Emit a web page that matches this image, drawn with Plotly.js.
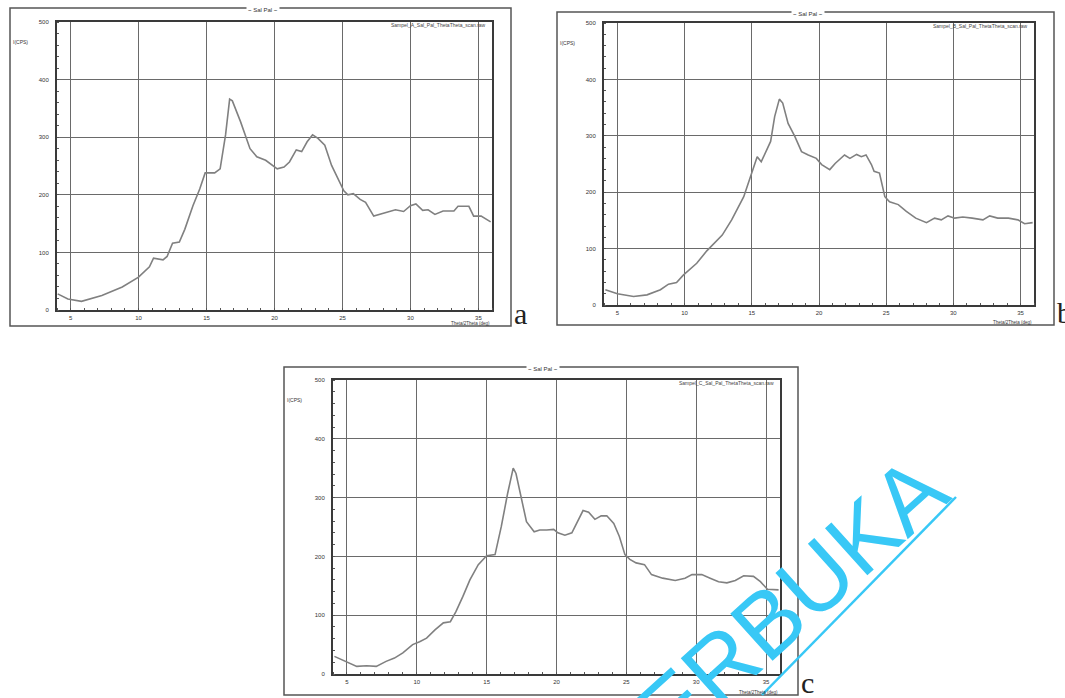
<!DOCTYPE html>
<html>
<head>
<meta charset="utf-8">
<script src="https://cdn.plot.ly/plotly-3.0.1.min.js"></script>
<style>html,body{margin:0;padding:0;background:#fff;}#chart{width:1065px;height:698px;}</style>
</head>
<body>
<div id="chart"></div>
<script>
// ---- data (2Theta in deg, intensity in CPS) ----
const thetaA = [4.05,4.8,5.8,7.3,8.8,10.0,10.8,11.1,11.8,12.1,12.5,13.0,13.4,14.0,14.5,14.9,15.6,16.0,16.4,16.7,16.9,17.5,18.2,18.7,19.35,19.7,20.2,20.7,21.1,21.6,22.0,22.4,22.8,23.2,23.7,24.2,24.7,25.1,25.4,25.8,26.3,26.7,27.3,28.2,28.9,29.5,30.0,30.4,30.9,31.3,31.8,32.4,33.2,33.5,34.3,34.65,35.2,35.9];
const cpsA   = [28,19,15,25,40,57,75,90,87,93,116,118,140,181,210,238,238,245,304,366,363,327,280,266,260,254,245,248,257,278,275,292,304,298,286,251,228,207,200,202,192,187,163,169,174,171,181,184,173,174,166,172,172,180,180,163,163,153];

const thetaB = [4.1,5.0,6.2,7.2,8.2,8.8,9.4,9.9,10.9,11.65,12.8,13.5,14.4,15.1,15.4,15.7,16.4,16.7,17.05,17.3,17.7,18.2,18.7,19.2,19.8,20.2,20.8,21.2,21.9,22.3,22.8,23.15,23.5,23.9,24.1,24.5,24.9,25.25,25.9,26.5,27.2,28.0,28.6,29.1,29.6,30.1,30.7,31.4,32.2,32.7,33.3,34.1,34.8,35.3,35.9];
const cpsB   = [27,20,15,18,27,37,40,53,74,96,124,151,192,240,263,254,290,334,365,358,322,299,272,266,260,249,240,251,266,260,267,263,266,249,237,234,192,183,178,166,154,146,154,151,158,154,156,154,151,158,154,154,151,144,146];

const thetaC = [4.1,4.95,5.7,6.4,7.1,7.8,8.4,9.0,9.7,10.2,10.7,11.3,11.9,12.4,12.8,13.3,13.8,14.4,15.0,15.6,16.05,16.5,16.9,17.1,17.5,17.85,18.4,18.8,19.3,19.8,20.1,20.6,21.1,21.6,21.9,22.3,22.75,23.2,23.6,24.1,24.5,24.9,25.25,25.7,26.3,26.8,27.6,28.5,29.2,29.7,30.4,31.0,31.6,32.2,32.8,33.4,34.1,34.6,35.1,35.9];
const cpsC   = [30,21.5,13,14,13,21.5,27,36,50,55,61,75,87,89,106,132,160,186,201,203,251,307,350,341,296,259,242,245,245,246,240,236,240,265,278,275,263,269,269,256,234,203,195,189,186,169,163,159,163,169,169,163,157,155,159,167,166,157,144,143];

const xTicks = [5,10,15,20,25,30,35];
const yTicks = [0,100,200,300,400,500];
const panelLetters = ['a','b','c'];
const chartTitle = '~ Sal Pal ~';
const fileNames = ['Sampel_A_Sal_Pal_ThetaTheta_scan.raw','Sampel_B_Sal_Pal_ThetaTheta_scan.raw','Sampel_C_Sal_Pal_ThetaTheta_scan.raw'];
const yLabel = 'I(CPS)';
const xLabel = 'Theta/2Theta (deg)';
const watermark = 'TERBUKA';

// ---- layout helpers (pixel -> paper) ----
const W = 1065, H = 698;
const px = v => v / W;
const py = v => 1 - v / H;

const lineStyle = {color:'#808080', width:1.6};
function trace(x, y, n){
  return {x:x, y:y, type:'scatter', mode:'lines', line:lineStyle,
          xaxis: n===1?'x':'x'+n, yaxis: n===1?'y':'y'+n, hoverinfo:'skip', showlegend:false};
}

function xAx(d0, d1, anchor){
  return {domain:[px(d0), px(d1)], range:[4,36], tickvals:xTicks, ticktext:xTicks.map(String),
    showgrid:true, gridcolor:'#6a6a6a', gridwidth:1, zeroline:false,
    showline:true, mirror:true, linecolor:'#3a3a3a', linewidth:2,
    ticks:'', ticklabelstandoff:1, tickfont:{size:6, color:'#333', family:'Arial'},
    minor:{dtick:1, ticks:'inside', ticklen:2, tickcolor:'#555', showgrid:false},
    anchor:anchor, fixedrange:true};
}
function yAx(top, bottom, anchor){
  return {domain:[py(bottom), py(top)], range:[0,500], tickvals:yTicks, ticktext:yTicks.map(String),
    showgrid:true, gridcolor:'#6a6a6a', gridwidth:1, zeroline:false,
    showline:true, mirror:true, linecolor:'#3a3a3a', linewidth:2,
    ticks:'', ticklabelstandoff:5, tickfont:{size:6, color:'#333', family:'Arial'},
    minor:{dtick:20, ticks:'inside', ticklen:2, tickcolor:'#555', showgrid:false},
    anchor:anchor, fixedrange:true};
}

// panel geometry in pixels
const P = [
  {box:[10,8,511,326],  plot:[57,22,492,310]},
  {box:[557,12,1054,325], plot:[604,23,1034,305]},
  {box:[284,367,798,695], plot:[333,380,780,674]}
];

const shapes = [];
const annotations = [];
P.forEach((p,i)=>{
  shapes.push({type:'rect', xref:'paper', yref:'paper',
    x0:px(p.box[0]), x1:px(p.box[2]), y0:py(p.box[3]), y1:py(p.box[1]),
    line:{color:'#555', width:1.5}, fillcolor:'rgba(0,0,0,0)', layer:'below'});
  const cx = (p.box[0]+p.box[2])/2 + 2;
  annotations.push({xref:'paper', yref:'paper', x:px(cx), y:py(p.box[1]+2), text:chartTitle,
    showarrow:false, font:{size:6, color:'#333', family:'Arial'}, xanchor:'center', yanchor:'middle', bgcolor:'#fff'});
  annotations.push({xref:'paper', yref:'paper', x:px(p.plot[2]-4), y:py(p.plot[1]+3), text:fileNames[i],
    showarrow:false, font:{size:5, color:'#444', family:'Arial'}, xanchor:'right', yanchor:'middle'});
  annotations.push({xref:'paper', yref:'paper', x:px(p.box[0]+10), y:py(p.plot[1]+20), text:yLabel,
    showarrow:false, font:{size:5, color:'#333', family:'Arial'}, xanchor:'center', yanchor:'middle'});
  annotations.push({xref:'paper', yref:'paper', x:px(p.plot[2]), y:py(p.box[3]-3), text:xLabel,
    showarrow:false, font:{size:4.5, color:'#333', family:'Arial'}, xanchor:'right', yanchor:'middle'});
  annotations.push({xref:'paper', yref:'paper', x:px(p.box[2]+1), y:py(p.box[3]+6), text:panelLetters[i],
    showarrow:false, font:{size:30, color:'#222', family:'Liberation Serif'}, xanchor:'left', yanchor:'bottom'});
});

// watermark
annotations.push({xref:'paper', yref:'paper', x:px(770), y:py(620), text:watermark, textangle:-42,
  showarrow:false, font:{size:92, color:'#38c8f6', family:'Liberation Sans'}, xanchor:'center', yanchor:'middle'});
shapes.push({type:'line', xref:'paper', yref:'paper', x0:px(762), y0:py(695), x1:px(956), y1:py(497),
  line:{color:'#38c8f6', width:2.5}});

const layout = {
  width:W, height:H, margin:{l:0,r:0,t:0,b:0}, paper_bgcolor:'#fff', plot_bgcolor:'#fff',
  showlegend:false,
  xaxis: xAx(P[0].plot[0], P[0].plot[2], 'y'),
  yaxis: yAx(P[0].plot[1], P[0].plot[3], 'x'),
  xaxis2: xAx(P[1].plot[0], P[1].plot[2], 'y2'),
  yaxis2: yAx(P[1].plot[1], P[1].plot[3], 'x2'),
  xaxis3: xAx(P[2].plot[0], P[2].plot[2], 'y3'),
  yaxis3: yAx(P[2].plot[1], P[2].plot[3], 'x3'),
  shapes: shapes, annotations: annotations
};

Plotly.newPlot('chart', [trace(thetaA,cpsA,1), trace(thetaB,cpsB,2), trace(thetaC,cpsC,3)], layout, {staticPlot:true, displayModeBar:false});
</script>
</body>
</html>
